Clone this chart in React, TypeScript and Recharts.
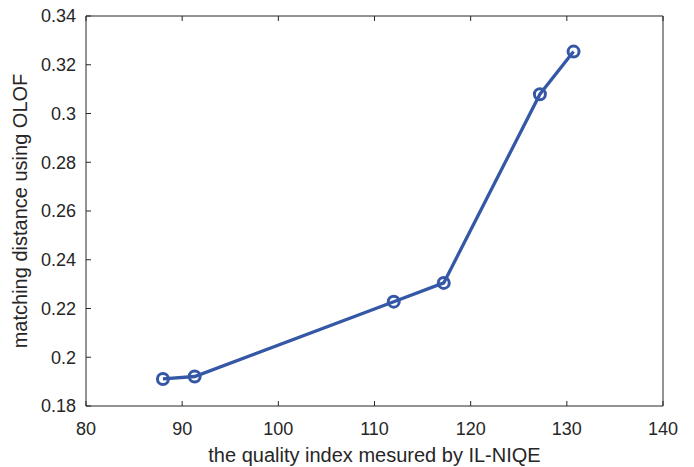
import React from 'react';
import { LineChart, Line, XAxis, YAxis, Label } from 'recharts';

// quality index (IL-NIQE) vs matching distance (OLOF)
const qualityIndex = [88.0, 91.3, 112.0, 117.2, 127.2, 130.7];
const matchingDistance = [0.1911, 0.1921, 0.2228, 0.2305, 0.3079, 0.3254];
const xTicks = [80, 90, 100, 110, 120, 130, 140];
const yTicks = [0.18, 0.2, 0.22, 0.24, 0.26, 0.28, 0.3, 0.32, 0.34];

const data = qualityIndex.map((q, i) => ({ q, d: matchingDistance[i] }));

const axisColor = '#262626';
const lineColor = '#3558a6';
const font = '"Liberation Sans", Arial, sans-serif';

const fmt = (v: number) => String(+v.toFixed(2));

const App: React.FC = () => {
  return (
    <div style={{ position: 'absolute', left: 0, top: 0, width: 694, height: 467, background: '#fff' }}>
      <LineChart
        width={694}
        height={467}
        data={data}
        margin={{ top: 15, right: 30, left: 0, bottom: 0 }}
        style={{ fontFamily: font }}
      >
        <XAxis
          xAxisId="b"
          dataKey="q"
          type="number"
          domain={[80, 140]}
          ticks={xTicks}
          height={61}
          tickSize={-5}
          tickMargin={21}
          stroke={axisColor}
          tick={{ fill: axisColor, fontSize: 18 }}
        >
          <Label
            value="the quality index mesured by IL-NIQE"
            position="insideBottom"
            offset={5}
            style={{ fill: axisColor, fontSize: 20 }}
          />
        </XAxis>
        {/* top and right axes only close the box and carry inward ticks */}
        <XAxis
          xAxisId="t"
          orientation="top"
          dataKey="q"
          type="number"
          domain={[80, 140]}
          ticks={xTicks}
          height={1}
          tickSize={-5}
          stroke={axisColor}
          tick={{ fontSize: 0 }}
          tickFormatter={() => ''}
        />
        <YAxis
          yAxisId="l"
          type="number"
          domain={[0.18, 0.34]}
          ticks={yTicks}
          width={86}
          tickSize={-5}
          tickMargin={15}
          tickFormatter={fmt}
          stroke={axisColor}
          tick={{ fill: axisColor, fontSize: 18 }}
        >
          <Label
            value="matching distance using OLOF"
            angle={-90}
            position="insideLeft"
            offset={20}
            style={{ fill: axisColor, fontSize: 20, textAnchor: 'middle' }}
          />
        </YAxis>
        <YAxis
          yAxisId="r"
          orientation="right"
          type="number"
          domain={[0.18, 0.34]}
          ticks={yTicks}
          width={1}
          tickSize={-5}
          stroke={axisColor}
          tick={{ fontSize: 0 }}
          tickFormatter={() => ''}
        />
        <Line
          xAxisId="b"
          yAxisId="l"
          type="linear"
          dataKey="d"
          stroke={lineColor}
          strokeWidth={3.3}
          dot={{ r: 5.5, stroke: lineColor, strokeWidth: 3, fill: 'none' }}
          activeDot={false}
          isAnimationActive={false}
        />
      </LineChart>
    </div>
  );
};

export default App;
